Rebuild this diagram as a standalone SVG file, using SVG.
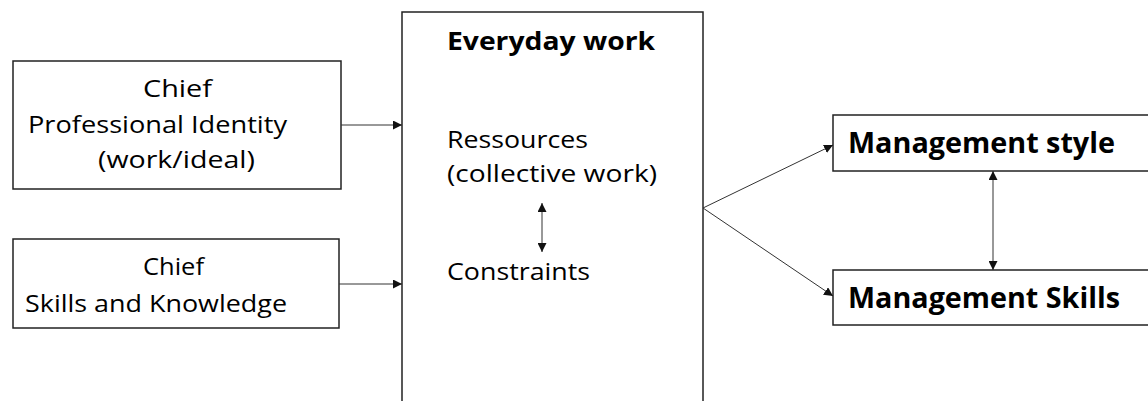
<svg xmlns="http://www.w3.org/2000/svg" width="1148" height="401" viewBox="0 0 1148 401">
<style>
.box{fill:#fff;stroke:#222;stroke-width:1.5}
.t{font-family:"Open Sans","Liberation Sans",sans-serif;font-size:24px;fill:#000}
.b{font-family:"Open Sans","Liberation Sans",sans-serif;font-weight:bold;fill:#000}
.c{stroke:#333;stroke-width:1;fill:none}
</style>
<defs>
<marker id="ah" viewBox="0 0 10 10" refX="10" refY="5" markerWidth="9" markerHeight="9" markerUnits="userSpaceOnUse" orient="auto-start-reverse">
<path d="M0,0 L10,5 L0,10 z" fill="#111"/>
</marker>
</defs>
<rect width="1148" height="401" fill="#fff"/>
<g id="identity">
<rect class="box" x="13" y="61" width="328" height="128"/>
<text class="t" x="143" y="97" textLength="69" lengthAdjust="spacingAndGlyphs">Chief</text>
<text class="t" x="28" y="133" textLength="259" lengthAdjust="spacingAndGlyphs">Professional Identity</text>
<text class="t" x="98" y="168" textLength="157" lengthAdjust="spacingAndGlyphs">(work/ideal)</text>
</g>
<g id="skills">
<rect class="box" x="13" y="239" width="326" height="89"/>
<text class="t" x="143" y="275" textLength="61" lengthAdjust="spacingAndGlyphs">Chief</text>
<text class="t" x="25" y="312" textLength="262" lengthAdjust="spacingAndGlyphs">Skills and Knowledge</text>
</g>
<g id="everyday">
<rect class="box" x="402" y="12" width="301" height="400"/>
<text class="b" x="447" y="50" font-size="25" textLength="208" lengthAdjust="spacingAndGlyphs">Everyday work</text>
<text class="t" x="447" y="148" textLength="141" lengthAdjust="spacingAndGlyphs">Ressources</text>
<text class="t" x="447" y="182" textLength="210" lengthAdjust="spacingAndGlyphs">(collective work)</text>
<text class="t" x="447" y="280" textLength="143" lengthAdjust="spacingAndGlyphs">Constraints</text>
</g>
<g id="style">
<rect class="box" x="833" y="115" width="320" height="56"/>
<text class="b" x="848" y="153" font-size="29" textLength="267" lengthAdjust="spacingAndGlyphs">Management style</text>
</g>
<g id="mskills">
<rect class="box" x="833" y="270" width="320" height="55"/>
<text class="b" x="848" y="308" font-size="29" textLength="272" lengthAdjust="spacingAndGlyphs">Management Skills</text>
</g>
<g id="connectors">
<line class="c" x1="341" y1="125" x2="402" y2="125" marker-end="url(#ah)"/>
<line class="c" x1="339" y1="284" x2="402" y2="284" marker-end="url(#ah)"/>
<line class="c" x1="542" y1="203" x2="542" y2="252" marker-start="url(#ah)" marker-end="url(#ah)"/>
<line class="c" x1="703" y1="208" x2="833" y2="145" marker-end="url(#ah)"/>
<line class="c" x1="703" y1="208" x2="833" y2="296" marker-end="url(#ah)"/>
<line class="c" x1="993" y1="171" x2="993" y2="270" marker-start="url(#ah)" marker-end="url(#ah)"/>
</g>
</svg>
